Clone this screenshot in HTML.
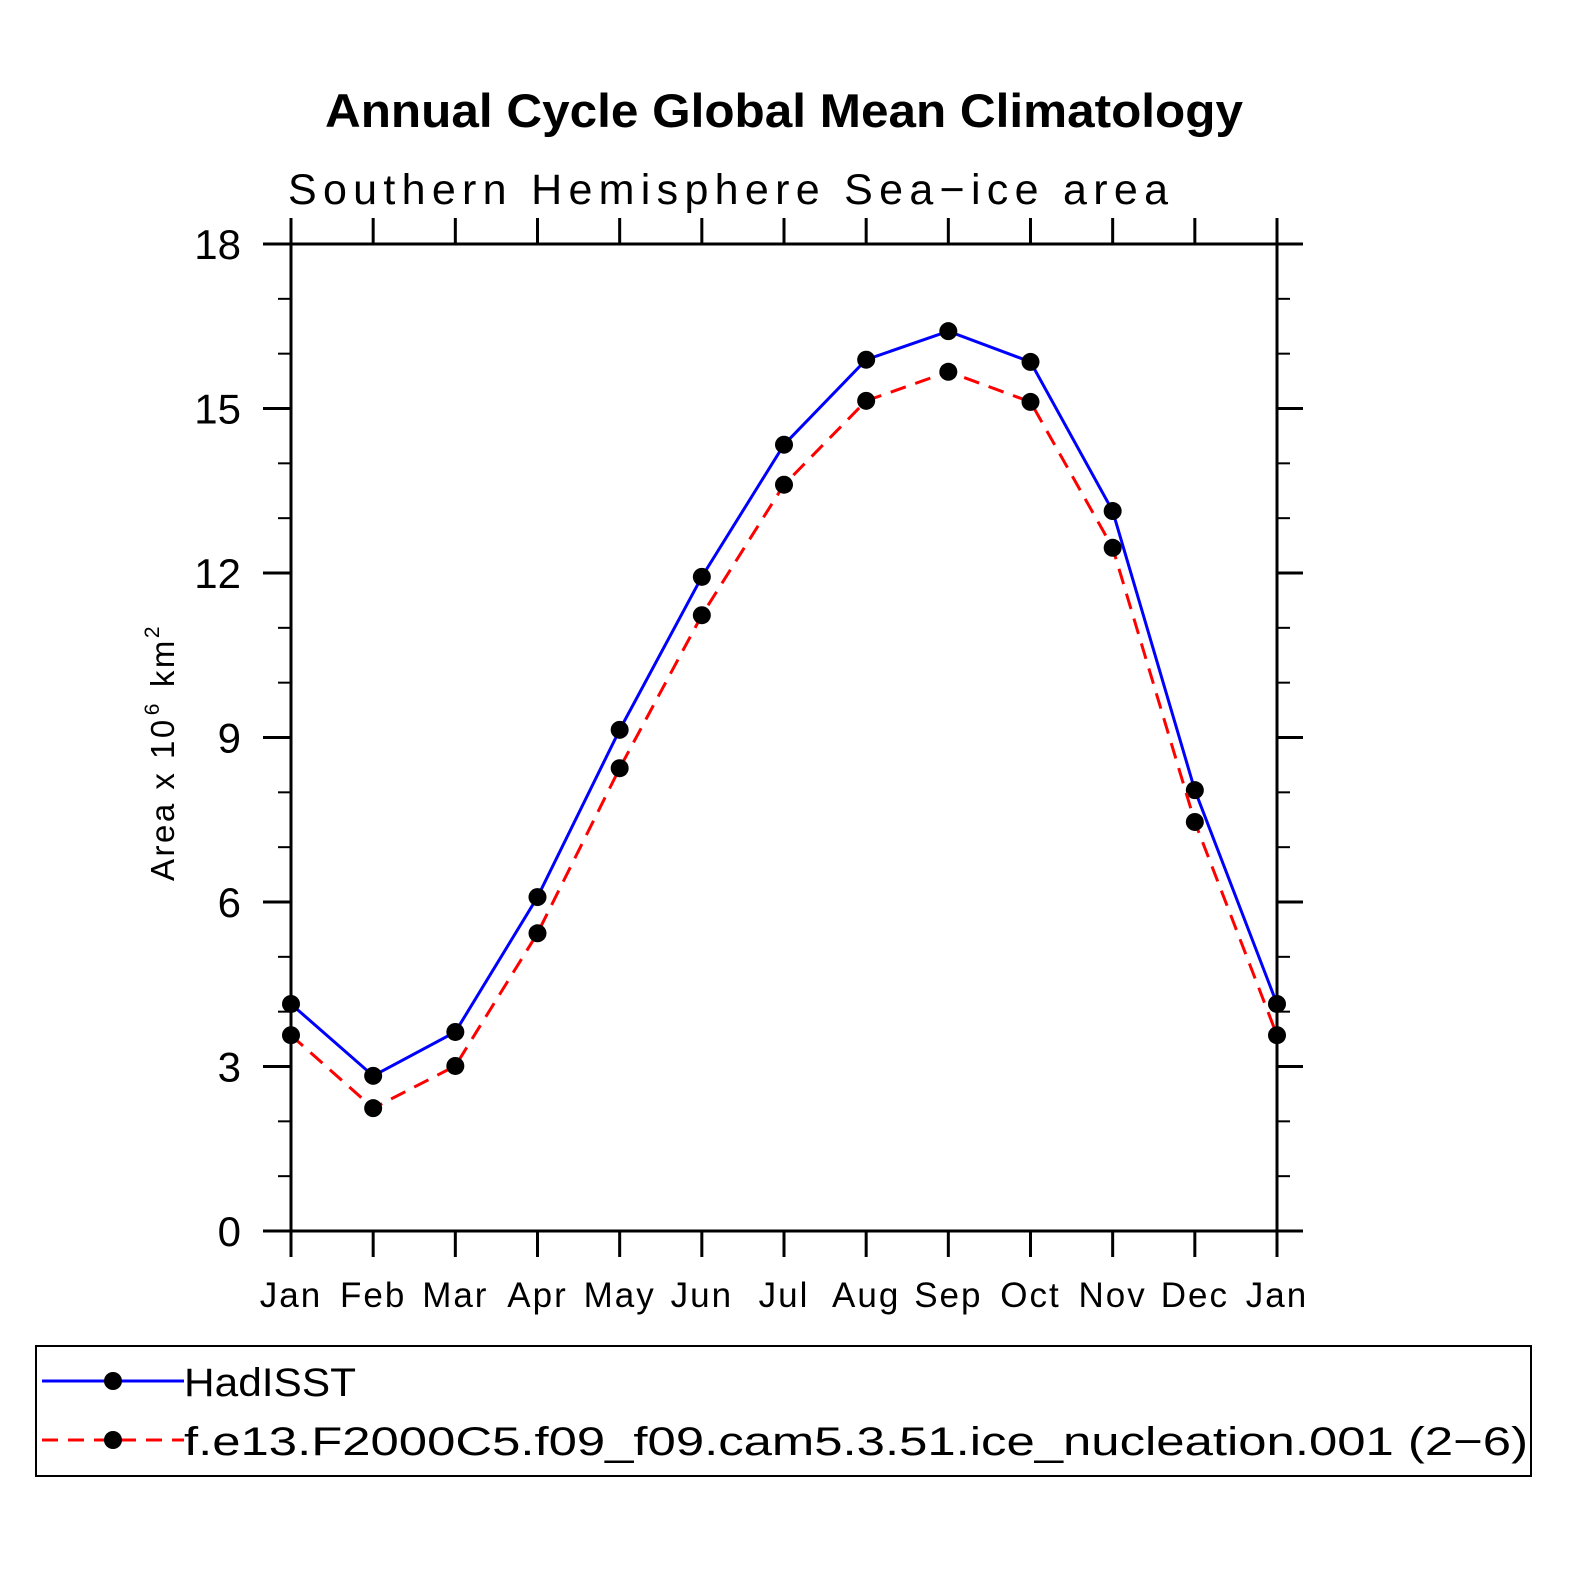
<!DOCTYPE html>
<html><head><meta charset="utf-8"><style>
html,body{margin:0;padding:0;background:#fff;}
svg{display:block;font-family:"Liberation Sans","DejaVu Sans",sans-serif;}
</style></head><body>
<svg id="chart" width="1574" height="1574" viewBox="0 0 1574 1574" xmlns="http://www.w3.org/2000/svg">
<rect width="1574" height="1574" fill="#fff"/>
<text x="325" y="127" font-size="47" font-weight="bold" textLength="918" lengthAdjust="spacingAndGlyphs">Annual Cycle Global Mean Climatology</text>
<text x="288" y="204" font-size="43" textLength="880" lengthAdjust="spacing">Southern Hemisphere Sea−ice area</text>
<text transform="translate(174,881) rotate(-90)" font-size="33" letter-spacing="2.5">Area x 10<tspan font-size="21" dy="-15" dx="2">6</tspan><tspan dy="15" dx="14">km</tspan><tspan font-size="21" dy="-15">2</tspan></text>
<g id="axes"></g>
<g id="series"></g>
<rect x="36" y="1346" width="1495" height="130" fill="none" stroke="#000" stroke-width="2"/>
<g>
<line x1="42" y1="1381" x2="184" y2="1381" stroke="#0000ff" stroke-width="3"/>
<circle cx="113" cy="1381" r="9" fill="#000"/>
<text x="184" y="1396" font-size="40" textLength="172" lengthAdjust="spacingAndGlyphs">HadISST</text>
</g>
<g>
<line x1="42" y1="1440" x2="184" y2="1440" stroke="#ff0000" stroke-width="3" stroke-dasharray="16,10"/>
<circle cx="113" cy="1440" r="9" fill="#000"/>
<text x="184" y="1455" font-size="40" textLength="1344" lengthAdjust="spacingAndGlyphs">f.e13.F2000C5.f09_f09.cam5.3.51.ice_nucleation.001 (2−6)</text>
</g>
</svg>
<script>
const months = ["Jan","Feb","Mar","Apr","May","Jun","Jul","Aug","Sep","Oct","Nov","Dec","Jan"];
const hadisst = [4.14,2.83,3.63,6.09,9.14,11.93,14.34,15.89,16.41,15.85,13.13,8.04,4.14];
const model = [3.57,2.24,3.01,5.43,8.44,11.23,13.61,15.14,15.67,15.12,12.46,7.46,3.57];
const yTicks = [0,3,6,9,12,15,18];
const yMinor = [1,2,4,5,7,8,10,11,13,14,16,17];

const NS="http://www.w3.org/2000/svg";
const X0=291,X1=1277,Y0=1231,Y1=244,YMAX=18;
function xs(i){return X0+(X1-X0)*i/(months.length-1);}
function ys(v){return Y0-(Y0-Y1)*v/YMAX;}
function mk(parent,tag,attrs){const e=document.createElementNS(NS,tag);for(const k in attrs)e.setAttribute(k,attrs[k]);parent.appendChild(e);return e;}
const ax=document.getElementById('axes');
const frame=mk(ax,'rect',{x:X0,y:Y1,width:X1-X0,height:Y0-Y1,fill:'none',stroke:'#000','stroke-width':3});


yTicks.forEach(v=>{
  const y=ys(v);
  const t1=mk(ax,'line',{x1:X0-28,y1:y,x2:X0,y2:y,stroke:'#000','stroke-width':3});
  
  
  const t2=mk(ax,'line',{x1:X1,y1:y,x2:X1+26,y2:y,stroke:'#000','stroke-width':3});
  
  
  const l=mk(ax,'text',{x:X0-50,y:y+15,'text-anchor':'end','font-size':42});
  l.textContent=v;
  
  
});
yMinor.forEach(v=>{
  const y=ys(v);
  const t1=mk(ax,'line',{x1:X0-13,y1:y,x2:X0,y2:y,stroke:'#000','stroke-width':2});
  
  
  const t2=mk(ax,'line',{x1:X1,y1:y,x2:X1+13,y2:y,stroke:'#000','stroke-width':2});
  
  
});
months.forEach((m,i)=>{
  const x=xs(i);
  const t1=mk(ax,'line',{x1:x,y1:Y0,x2:x,y2:Y0+26,stroke:'#000','stroke-width':3});
  
  
  const t2=mk(ax,'line',{x1:x,y1:Y1-26,x2:x,y2:Y1,stroke:'#000','stroke-width':3});
  
  
  const l=mk(ax,'text',{x:x,y:1307,'text-anchor':'middle','font-size':35,'letter-spacing':2});
  l.textContent=m;
  
  
});
const sg=document.getElementById('series');
function drawSeries(vals,color,dash,name){
  const pts=vals.map((v,i)=>xs(i)+','+ys(v)).join(' ');
  const a={points:pts,fill:'none',stroke:color,'stroke-width':3};
  if(dash)a['stroke-dasharray']=dash;
  const pl=mk(sg,'polyline',a);
  
  
  vals.forEach((v,i)=>{
    const c=mk(sg,'circle',{cx:xs(i),cy:ys(v),r:9,fill:'#000'});
    
    
  });
}
drawSeries(hadisst,'#0000ff',null,'hadisst');
drawSeries(model,'#ff0000','16,10','model');
</script>
</body></html>
